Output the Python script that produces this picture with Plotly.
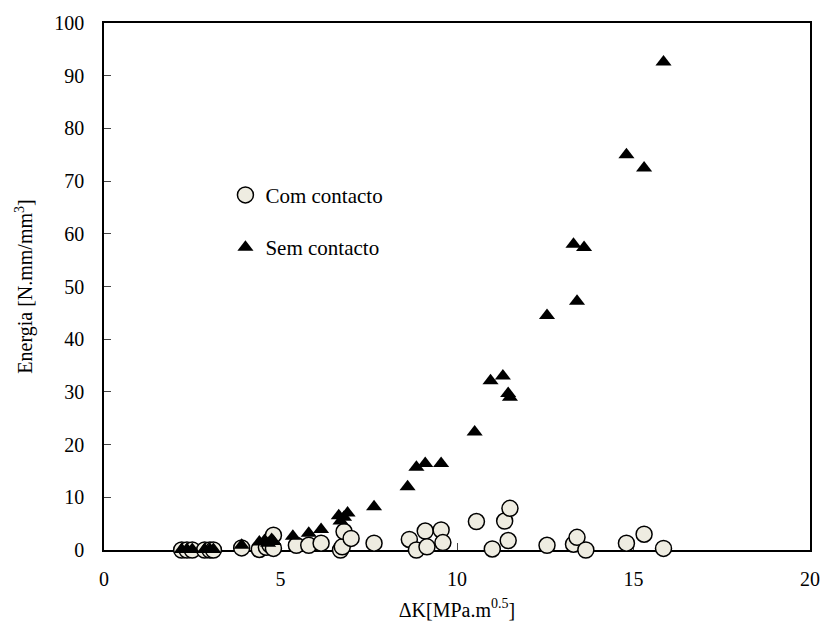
import plotly.graph_objects as go

# Com contacto (circles)
com_x = [2.2, 2.35, 2.5, 2.85, 3.0, 3.1, 3.9, 4.4, 4.6, 4.7, 4.8, 4.8, 5.45, 5.8, 6.15,
         6.7, 6.75, 6.8, 7.0, 7.65, 8.65, 8.85, 9.1, 9.15, 9.55, 9.6, 10.55, 11.0, 11.35,
         11.45, 11.5, 12.55, 13.3, 13.4, 13.65, 14.8, 15.3, 15.85]
com_y = [0, 0, 0, 0, 0, 0, 0.4, 0.1, 0.5, 1.0, 0.3, 2.8, 0.9, 0.9, 1.3,
         0, 0.6, 3.5, 2.2, 1.3, 2.0, 0, 3.6, 0.6, 3.8, 1.4, 5.4, 0.2, 5.5,
         1.8, 7.9, 0.9, 1.1, 2.4, 0, 1.3, 3.0, 0.3]

# Sem contacto (triangles)
sem_x = [2.2, 2.35, 2.5, 2.85, 3.0, 3.1, 3.9, 4.4, 4.55, 4.65, 4.75, 4.8, 5.35, 5.8, 6.15,
         6.65, 6.7, 6.8, 6.9, 7.65, 8.6, 8.85, 9.1, 9.55, 10.5, 10.95, 11.3, 11.45, 11.5,
         12.55, 13.3, 13.4, 13.6, 14.8, 15.3, 15.85]
sem_y = [0.1, 0.1, 0.1, 0.1, 0.1, 0.1, 0.9, 1.5, 1.8, 1.3, 2.0, 1.6, 2.6, 3.2, 3.9,
         6.5, 5.5, 6.2, 7.0, 8.2, 12.0, 15.7, 16.4, 16.4, 22.4, 32.1, 33.0, 29.7, 29.0,
         44.5, 58.0, 47.2, 57.4, 75.0, 72.5, 92.6]

x_ticks = [0, 5, 10, 15, 20]
y_ticks = [0, 10, 20, 30, 40, 50, 60, 70, 80, 90, 100]

font = "Liberation Serif"

fig = go.Figure()
fig.add_trace(go.Scatter(
    x=com_x, y=com_y, mode="markers", name="Com contacto", legendgroup="a",
    cliponaxis=False,
    marker=dict(symbol="circle", size=16, color="#EEECE1",
                line=dict(color="black", width=1.5)),
))
fig.add_trace(go.Scatter(
    x=sem_x, y=sem_y, mode="markers", name="Sem contacto", legendgroup="b",
    cliponaxis=False,
    marker=dict(symbol="triangle-up", size=14, color="black",
                line=dict(color="black", width=0)),
))

fig.update_layout(
    width=832, height=635,
    margin=dict(l=104, r=15, t=21, b=85),
    paper_bgcolor="white", plot_bgcolor="white",
    font=dict(family=font, size=20, color="black"),
    showlegend=True,
    legend=dict(x=0.172, y=0.712, xanchor="left", yanchor="top",
                bgcolor="rgba(0,0,0,0)", font=dict(size=21, family=font),
                tracegroupgap=22),
    xaxis=dict(range=[0, 20], tickvals=x_ticks, ticks="inside", ticklen=7,
               showgrid=False, zeroline=False, showline=True, linecolor="black",
               linewidth=1.5, mirror=True, layer="below traces",
               ticklabelstandoff=10,
               tickfont=dict(family=font, size=20),
               title=dict(text="ΔK[MPa.m<sup>0.5</sup>]", font=dict(family=font, size=20), standoff=14)),
    yaxis=dict(range=[0, 100], tickvals=y_ticks, ticks="inside", ticklen=7,
               showgrid=False, zeroline=False, showline=True, linecolor="black",
               linewidth=1.5, mirror=True, layer="below traces",
               ticklabelstandoff=14,
               tickfont=dict(family=font, size=20),
               title=dict(text="Energia [N.mm/mm<sup>3</sup>]", font=dict(family=font, size=20), standoff=16)),
)

fig.write_html("out.html")
